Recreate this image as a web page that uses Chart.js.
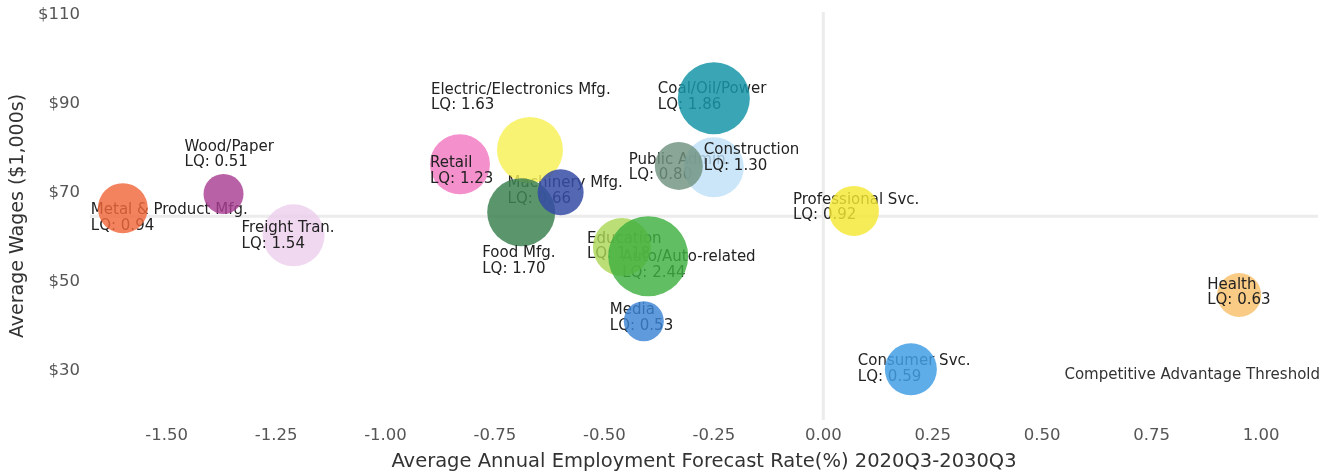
<!DOCTYPE html>
<html lang="en">
<head>
  <meta charset="UTF-8" />
  <title>Industry Wages vs Employment Forecast</title>
  <script src="https://cdn.jsdelivr.net/npm/chart.js"></script>
  <style>
    html, body { margin: 0; padding: 0; background: #fff; }
  </style>
</head>
<body>
  <canvas id="industryChart" width="1333" height="476"></canvas>

  <script>
    // one entry per industry, drawn in this order (later ones sit on top)
    const industries = ['Freight Tran.', 'Metal & Product Mfg.', 'Wood/Paper', 'Electric/Electronics Mfg.', 'Retail',
      'Food Mfg.', 'Machinery Mfg.', 'Education', 'Auto/Auto-related', 'Media', 'Construction', 'Public Admin.',
      'Coal/Oil/Power', 'Professional Svc.', 'Consumer Svc.', 'Health'];
    const growth = [-1.21, -1.60, -1.37, -0.67, -0.83, -0.69, -0.60, -0.46, -0.40, -0.41, -0.25, -0.33, -0.25, 0.07, 0.20, 0.95];
    const wages = [60.5, 66.6, 69.8, 79.7, 76.5, 65.7, 70.2, 57.9, 55.8, 41.2, 75.8, 76.1, 91.3, 66.0, 30.4, 47.1];
    const lq = [1.54, 0.94, 0.51, 1.63, 1.23, 1.70, 0.66, 1.18, 2.44, 0.53, 1.30, 0.80, 1.86, 0.92, 0.59, 0.63];
    const bubbleSize = [31, 25, 20, 33, 30, 34, 23, 29, 40, 20, 30, 24, 36, 25, 26, 22];

    const xTicks = [-1.5, -1.25, -1, -0.75, -0.5, -0.25, 0, 0.25, 0.5, 0.75, 1];
    const yTicks = [30, 50, 70, 90, 110];
    const growthThreshold = 0;
    const wageThreshold = 64.8;

    const colors = [
      'rgba(236,208,236,0.8)', 'rgba(240,104,58,0.82)', 'rgba(168,62,146,0.82)', 'rgba(248,240,84,0.82)',
      'rgba(242,120,192,0.82)', 'rgba(62,130,82,0.85)', 'rgba(54,76,166,0.85)', 'rgba(170,214,84,0.8)',
      'rgba(64,176,64,0.82)', 'rgba(60,132,214,0.82)', 'rgba(190,224,246,0.82)', 'rgba(112,146,128,0.82)',
      'rgba(24,150,168,0.85)', 'rgba(244,232,50,0.82)', 'rgba(66,158,228,0.85)', 'rgba(248,192,106,0.82)'
    ];

    // label placement from bubble centre: [dx to left edge, dy to first line]
    const labelOffset = [[-52, -7], [-32, 2], [-39, -47], [-99, -60], [-30, -1], [-39, 41], [-53, -9], [-35, -8],
      [-26, 1], [-34, -11], [-10, -17], [-50, -6], [-56, -9], [-61, -11], [-53, -8], [-32, -10]];
    const labelOnTop = [true, false, true, true, true, true, false, false, false, false, true, false, false, false, false, true];

    function drawLabels(chart, onTop) {
      const ctx = chart.ctx;
      const pts = chart.getDatasetMeta(0).data;
      ctx.save();
      ctx.font = '15px "DejaVu Sans"';
      ctx.fillStyle = '#222';
      ctx.textAlign = 'left';
      ctx.textBaseline = 'middle';
      pts.forEach((pt, i) => {
        if (labelOnTop[i] !== onTop) return;
        const [dx, dy] = labelOffset[i];
        ctx.fillText(industries[i], pt.x + dx, pt.y + dy);
        ctx.fillText('LQ: ' + lq[i].toFixed(2), pt.x + dx, pt.y + dy + 15.5);
      });
      ctx.restore();
    }

    const thresholdPlugin = {
      id: 'threshold',
      beforeDatasetsDraw(chart) {
        const { ctx, chartArea: a, scales: { x, y } } = chart;
        const px = x.getPixelForValue(growthThreshold);
        const py = y.getPixelForValue(wageThreshold);
        ctx.save();
        ctx.strokeStyle = '#ececec';
        ctx.lineWidth = 3;
        ctx.beginPath();
        ctx.moveTo(px, a.top);
        ctx.lineTo(px, a.bottom);
        ctx.moveTo(a.left, py);
        ctx.lineTo(a.right, py);
        ctx.stroke();

        ctx.font = '15px "DejaVu Sans"';
        ctx.fillStyle = '#333';
        ctx.textAlign = 'right';
        ctx.textBaseline = 'middle';
        ctx.fillText('Competitive Advantage Threshold', a.right + 2, y.getPixelForValue(29.1));
        ctx.restore();

        drawLabels(chart, false);
      },
      afterDatasetsDraw(chart) {
        drawLabels(chart, true);
      }
    };

    const ctx = document.getElementById('industryChart').getContext('2d');
    new Chart(ctx, {
      type: 'bubble',
      data: {
        datasets: [{
          data: industries.map((name, i) => ({ x: growth[i], y: wages[i], r: bubbleSize[i] })),
          backgroundColor: colors,
          borderWidth: 0,
          hoverRadius: 0
        }]
      },
      options: {
        responsive: false,
        animation: false,
        events: [],
        layout: { autoPadding: false, padding: { top: 12, right: 15, left: 0, bottom: 0 } },
        plugins: {
          legend: { display: false },
          tooltip: { enabled: false }
        },
        scales: {
          x: {
            type: 'linear',
            min: -1.675,
            max: 1.13,
            grid: { display: false, drawTicks: false },
            border: { display: false },
            afterBuildTicks: s => { s.ticks = xTicks.map(v => ({ value: v })); },
            afterFit: s => { s.height = 56; },
            ticks: {
              callback: v => v.toFixed(2),
              color: '#555',
              padding: 6,
              maxRotation: 0,
              font: { family: 'DejaVu Sans', size: 16.5 }
            },
            title: {
              display: true,
              text: 'Average Annual Employment Forecast Rate(%) 2020Q3-2030Q3',
              color: '#333',
              padding: { top: 0, bottom: 2 },
              font: { family: 'DejaVu Sans', size: 19.5 }
            }
          },
          y: {
            type: 'linear',
            min: 19,
            max: 110.7,
            grid: { display: false, drawTicks: false },
            border: { display: false },
            afterBuildTicks: s => { s.ticks = yTicks.map(v => ({ value: v })); },
            // fixed axis width; drop the half-label padding so the plot reaches the top
            afterFit: s => { s.width = 90; s.paddingTop = 0; s.paddingBottom = 0; },
            ticks: {
              callback: v => '$' + v,
              color: '#555',
              padding: 10,
              font: { family: 'DejaVu Sans', size: 16.5 }
            },
            title: {
              display: true,
              text: 'Average Wages ($1,000s)',
              color: '#333',
              padding: { top: 7, bottom: 0 },
              font: { family: 'DejaVu Sans', size: 19 }
            }
          }
        }
      },
      plugins: [thresholdPlugin]
    });
  </script>
</body>
</html>
